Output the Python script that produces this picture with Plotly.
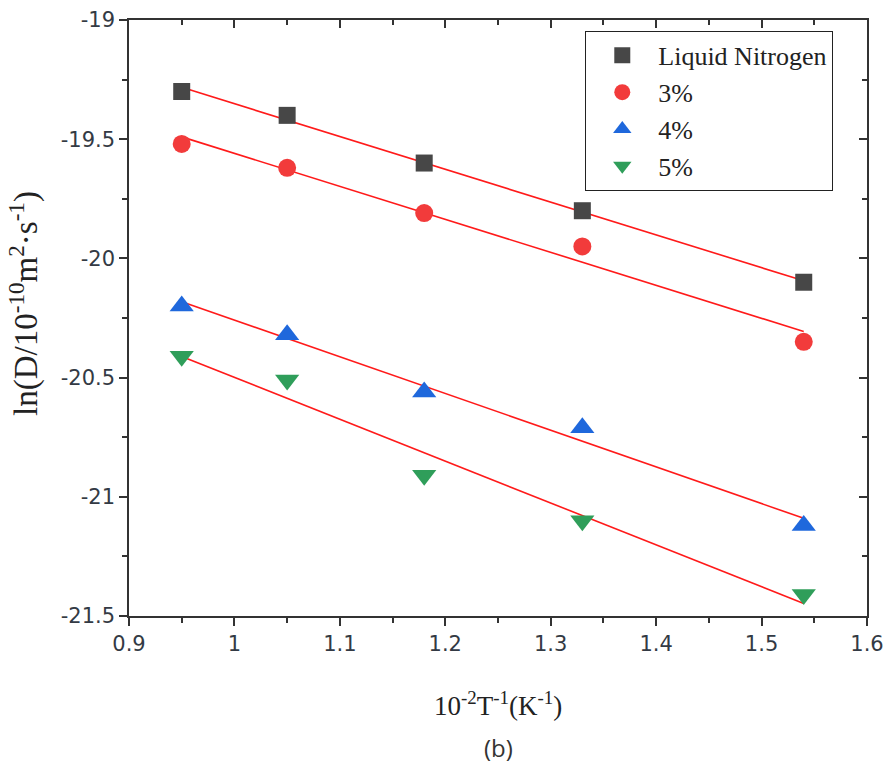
import numpy as np
import plotly.graph_objects as go

# Inverse temperature (10^-2 T^-1, K^-1)
inv_T = [0.95, 1.05, 1.18, 1.33, 1.54]

# ln(D / 10^-10 m^2 s^-1) for each condition
ln_D_liquid_n2 = [-19.30, -19.40, -19.60, -19.80, -20.10]
ln_D_3pct = [-19.52, -19.62, -19.81, -19.95, -20.35]
ln_D_4pct = [-20.20, -20.32, -20.56, -20.71, -21.12]
ln_D_5pct = [-20.41, -20.51, -20.91, -21.10, -21.41]

series_names = ["Liquid Nitrogen", "3%", "4%", "5%"]
series_values = [ln_D_liquid_n2, ln_D_3pct, ln_D_4pct, ln_D_5pct]
series_symbols = ["square", "circle", "triangle-up", "triangle-down"]
series_colors = ["#474747", "#f23b3b", "#1f68dc", "#2f9e5a"]
series_sizes = [17, 18, 21, 21]

x_ticks = [0.9, 1.0, 1.1, 1.2, 1.3, 1.4, 1.5, 1.6]
x_tick_text = ["0.9", "1", "1.1", "1.2", "1.3", "1.4", "1.5", "1.6"]
y_ticks = [-19.0, -19.5, -20.0, -20.5, -21.0, -21.5]
y_tick_text = ["-19", "-19.5", "-20", "-20.5", "-21", "-21.5"]

X_RANGE = [0.9, 1.6]
Y_RANGE = [-21.5, -19.0]

fig = go.Figure()

xs = np.array(inv_T)
# Linear Arrhenius fits, drawn over the measured temperature span
for vals in series_values:
    slope, intercept = np.polyfit(xs, np.array(vals), 1)
    fx = [xs.min(), xs.max()]
    fig.add_trace(go.Scatter(
        x=fx, y=[slope * v + intercept for v in fx], mode="lines",
        line=dict(color="#ff1a1a", width=1.6), showlegend=False, hoverinfo="skip",
    ))

# Measured points
for name, vals, sym, col, sz in zip(series_names, series_values, series_symbols,
                                    series_colors, series_sizes):
    fig.add_trace(go.Scatter(
        x=inv_T, y=vals, mode="markers", name=name,
        marker=dict(symbol=sym, color=col, size=sz, line=dict(width=0)),
    ))

# Empty trace to carry the mirrored top/right axes
fig.add_trace(go.Scatter(x=[], y=[], xaxis="x2", yaxis="y2",
                         showlegend=False, hoverinfo="skip"))

axis_line = dict(showline=True, linecolor="#333333", linewidth=1.5,
                 showgrid=False, zeroline=False, automargin=False)
tick_font = dict(family="DejaVu Sans", size=21, color="#333a44")

fig.update_layout(
    width=886, height=773,
    margin=dict(l=129, r=19, t=20, b=157, autoexpand=False),
    paper_bgcolor="white", plot_bgcolor="white",
    xaxis=dict(range=X_RANGE, tickvals=x_ticks, ticktext=x_tick_text,
               ticks="outside", ticklen=8, tickwidth=1.5, tickcolor="#333333",
               minor=dict(dtick=0.05, ticks="outside", ticklen=5, tickwidth=1.5,
                          tickcolor="#333333", tick0=0.9),
               tickfont=tick_font, **axis_line),
    yaxis=dict(range=Y_RANGE, tickvals=y_ticks, ticktext=y_tick_text,
               ticks="outside", ticklen=8, tickwidth=1.5, tickcolor="#333333",
               minor=dict(dtick=0.25, ticks="outside", ticklen=5, tickwidth=1.5,
                          tickcolor="#333333", tick0=-21.5),
               tickfont=tick_font, **axis_line),
    xaxis2=dict(range=X_RANGE, overlaying="x", side="top", anchor="y2",
                tickvals=x_ticks, showticklabels=False,
                ticks="inside", ticklen=8, tickwidth=1.5, tickcolor="#333333",
                minor=dict(dtick=0.05, ticks="inside", ticklen=5, tickwidth=1.5,
                           tickcolor="#333333", tick0=0.9),
                **axis_line),
    yaxis2=dict(range=Y_RANGE, overlaying="y", side="right", anchor="x2",
                tickvals=y_ticks, showticklabels=False,
                ticks="inside", ticklen=8, tickwidth=1.5, tickcolor="#333333",
                minor=dict(dtick=0.25, ticks="inside", ticklen=5, tickwidth=1.5,
                           tickcolor="#333333", tick0=-21.5),
                **axis_line),
    legend=dict(x=0.618, y=0.982, xanchor="left", yanchor="top",
                bordercolor="#222222", borderwidth=1.2, bgcolor="white",
                font=dict(family="Liberation Serif", size=26, color="#222222"),
                itemwidth=62),
    showlegend=True,
    annotations=[
        dict(text="ln(D/10<sup>-10</sup>m<sup>2</sup>·s<sup>-1</sup>)",
             xref="paper", yref="paper", x=-0.142, y=0.524, textangle=-90,
             showarrow=False, xanchor="center", yanchor="middle",
             font=dict(family="Liberation Serif", size=33, color="#222222")),
        dict(text="10<sup>-2</sup>T<sup>-1</sup>(K<sup>-1</sup>)",
             xref="paper", yref="paper", x=0.5, y=-0.147,
             showarrow=False, xanchor="center", yanchor="middle",
             font=dict(family="Liberation Serif", size=27, color="#222222")),
        dict(text="(b)", xref="paper", yref="paper", x=0.5, y=-0.22,
             showarrow=False, xanchor="center", yanchor="middle",
             font=dict(family="Open Sans", size=24, color="#333333")),
    ],
)

fig.write_html("out.html")
